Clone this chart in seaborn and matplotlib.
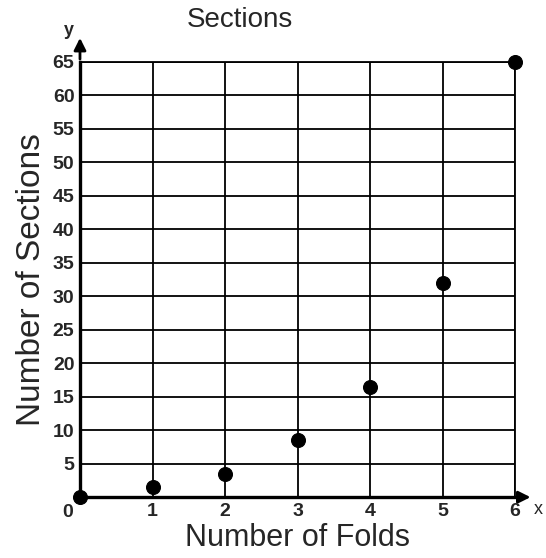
import pandas as pd
import seaborn as sns
import matplotlib.pyplot as plt

folds = [0, 1, 2, 3, 4, 5, 6]
sections = [0, 1.5, 3.5, 8.5, 16.5, 32, 65]
x_ticks = [1, 2, 3, 4, 5, 6]
y_ticks = [5, 10, 15, 20, 25, 30, 35, 40, 45, 50, 55, 60, 65]

df = pd.DataFrame({"folds": folds, "sections": sections})

sns.set_theme(style="white")
plt.rcParams["font.family"] = ["Liberation Sans", "DejaVu Sans"]

fig = plt.figure(figsize=(5.46, 5.58), dpi=100)
ax = fig.add_axes([0.1465, 0.109, 0.797, 0.780])

sns.scatterplot(data=df, x="folds", y="sections", color="black", s=100,
                edgecolor="black", clip_on=False, zorder=5, ax=ax)

ax.set_xlim(0, 6)
ax.set_ylim(0, 65)
ax.set_xticks(x_ticks)
ax.set_yticks(y_ticks)
ax.set_xticklabels([str(t) for t in x_ticks], fontsize=14, fontweight="bold")
ax.set_yticklabels([str(t) for t in y_ticks], fontsize=14, fontweight="bold")
ax.tick_params(length=0, pad=4)
ax.grid(True, color="black", linewidth=1.3)

for side in ["top", "right"]:
    ax.spines[side].set_linewidth(1.3)
    ax.spines[side].set_color("black")
for side in ["left", "bottom"]:
    ax.spines[side].set_linewidth(2.4)
    ax.spines[side].set_color("black")

# axis arrows
ax.annotate("", xy=(6.25, 0), xytext=(6, 0), annotation_clip=False,
            arrowprops=dict(arrowstyle="-|>", color="black", lw=2, mutation_scale=18))
ax.annotate("", xy=(0, 69), xytext=(0, 65), annotation_clip=False,
            arrowprops=dict(arrowstyle="-|>", color="black", lw=2, mutation_scale=18))
ax.text(6.26, -0.6, "x", fontsize=13, ha="left", va="top")
ax.text(-0.08, 68.5, "y", fontsize=13, fontweight="bold", ha="right", va="bottom")
ax.text(-0.1, -1.0, "0", fontsize=14, fontweight="bold", ha="right", va="top")

ax.set_xlabel("Number of Folds", fontsize=22, labelpad=2)
ax.set_ylabel("Number of Sections", fontsize=24, labelpad=4)
fig.text(0.44, 0.965, "Sections", fontsize=20, ha="center", va="center")

fig.savefig("out.png", dpi=100)
